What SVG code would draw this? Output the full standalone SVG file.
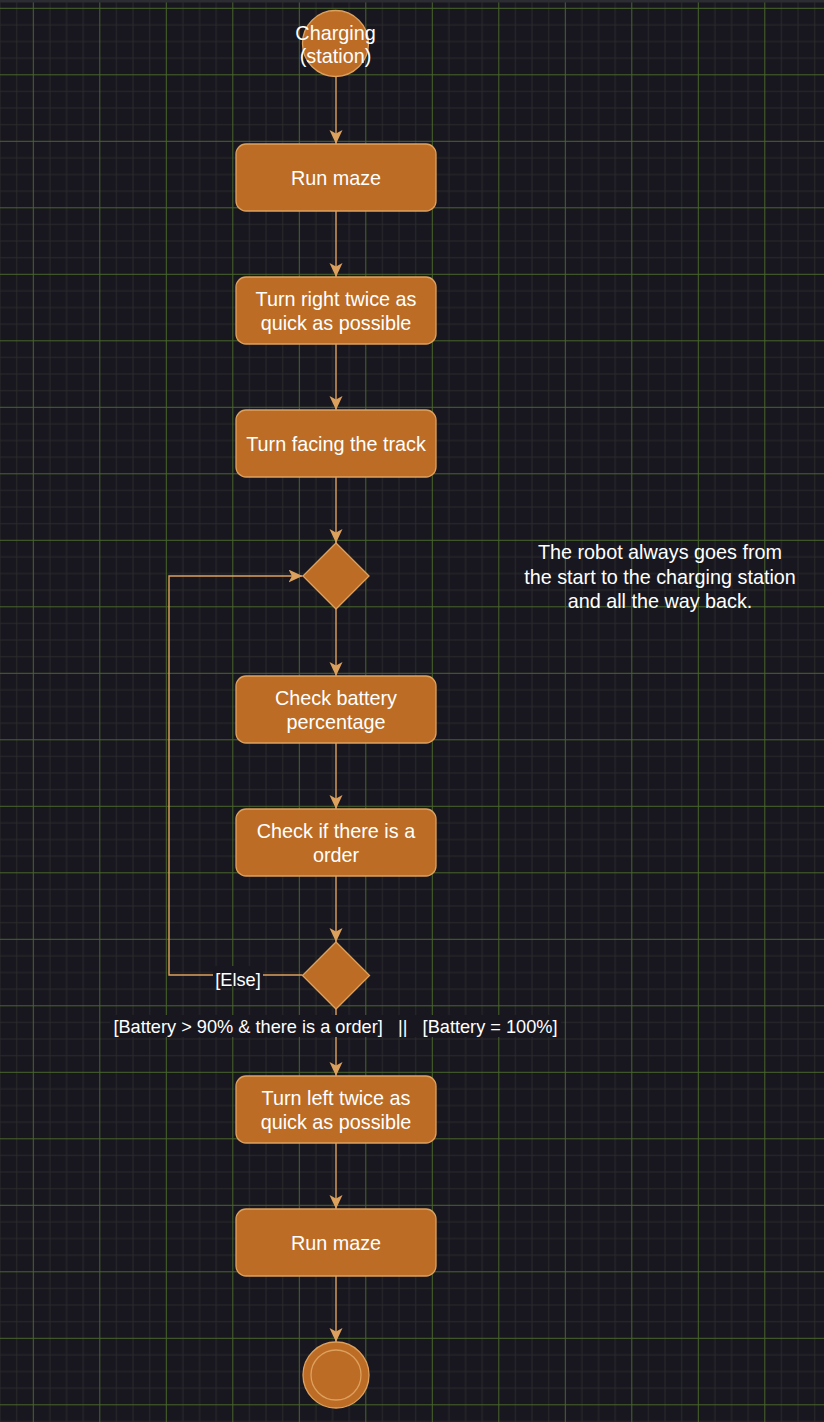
<svg xmlns="http://www.w3.org/2000/svg" width="824" height="1422" viewBox="0 0 824 1422">
<style>
.node{fill:#BC6C25;stroke:#DDA15E;stroke-width:1.3}
.t{font-family:"Liberation Sans",Arial,sans-serif;font-size:19.8px;fill:#ffffff;text-anchor:middle}
.lbl{font-size:18.2px}
.edge{fill:none;stroke:#DDA15E;stroke-width:1.4}
</style>
<defs>
<pattern id="grid" patternUnits="userSpaceOnUse" x="32.8" y="7.8" width="66.5" height="66.5">
<path d="M17.125,0V66.5M33.75,0V66.5M50.375,0V66.5M0,17.125H66.5M0,33.75H66.5M0,50.375H66.5" stroke="#2a2a2c" stroke-width="1"/>
<path d="M0.5,0V66.5M0,0.5H66.5" stroke="#47652a" stroke-width="1"/>
</pattern>
<marker id="arr" markerUnits="userSpaceOnUse" markerWidth="15" markerHeight="14" refX="14" refY="6.5" orient="auto">
<path d="M0,0 L14,6.5 L0,13 L3.5,6.5 Z" fill="#DDA15E"/>
</marker>
</defs>
<rect width="824" height="1422" fill="#18171f"/>
<rect width="824" height="1422" fill="url(#grid)"/>
<rect width="824" height="2.5" fill="#2c2c33"/>
<g id="connectors">
<path class="edge" d="M336,77V144" marker-end="url(#arr)"/>
<path class="edge" d="M336,211V277" marker-end="url(#arr)"/>
<path class="edge" d="M336,344V410" marker-end="url(#arr)"/>
<path class="edge" d="M336,477V543" marker-end="url(#arr)"/>
<path class="edge" d="M336,609V676" marker-end="url(#arr)"/>
<path class="edge" d="M336,743V809" marker-end="url(#arr)"/>
<path class="edge" d="M336,876V942" marker-end="url(#arr)"/>
<path class="edge" d="M336,1009V1076" marker-end="url(#arr)"/>
<path class="edge" d="M336,1143V1209" marker-end="url(#arr)"/>
<path class="edge" d="M336,1276V1342" marker-end="url(#arr)"/>
<path class="edge" d="M302.5,975H169V576H302.5" marker-end="url(#arr)"/>
<g id="label-else">
<rect x="213" y="966" width="50" height="20" fill="#18171f"/>
<text class="t lbl" x="238" y="986">[Else]</text>
</g>
<g id="label-cond">
<rect x="110" y="1015" width="451" height="22" fill="#18171f"/>
<text class="t lbl" x="335.5" y="1033" style="white-space:pre" xml:space="preserve">[Battery &gt; 90% &amp; there is a order]   ||   [Battery = 100%]</text>
</g>
</g>
<g id="start">
<circle class="node" cx="335.5" cy="43.5" r="33"/>
<text class="t" x="335.5" y="39.5">Charging</text>
<text class="t" x="335.5" y="63">(station)</text>
</g>
<g id="run-maze-1">
<rect class="node" x="236" y="144" width="200" height="67" rx="10"/>
<text class="t" x="336" y="184.5">Run maze</text>
</g>
<g id="turn-right">
<rect class="node" x="236" y="277" width="200" height="67" rx="10"/>
<text class="t" x="336" y="305.5">Turn right twice as</text>
<text class="t" x="336" y="329.5">quick as possible</text>
</g>
<g id="turn-facing">
<rect class="node" x="236" y="410" width="200" height="67" rx="10"/>
<text class="t" x="336" y="450.5">Turn facing the track</text>
</g>
<g id="merge">
<path class="node" d="M336,543L369,576L336,609L303,576Z"/>
</g>
<g id="check-battery">
<rect class="node" x="236" y="676" width="200" height="67" rx="10"/>
<text class="t" x="336" y="704.5">Check battery</text>
<text class="t" x="336" y="728.5">percentage</text>
</g>
<g id="check-order">
<rect class="node" x="236" y="809" width="200" height="67" rx="10"/>
<text class="t" x="336" y="837.5">Check if there is a</text>
<text class="t" x="336" y="861.5">order</text>
</g>
<g id="decision">
<path class="node" d="M336,942L369.5,975.5L336,1009L302.5,975.5Z"/>
</g>
<g id="turn-left">
<rect class="node" x="236" y="1076" width="200" height="67" rx="10"/>
<text class="t" x="336" y="1104.5">Turn left twice as</text>
<text class="t" x="336" y="1128.5">quick as possible</text>
</g>
<g id="run-maze-2">
<rect class="node" x="236" y="1209" width="200" height="67" rx="10"/>
<text class="t" x="336" y="1249.5">Run maze</text>
</g>
<g id="end">
<circle class="node" cx="336" cy="1375" r="33"/>
<circle cx="336" cy="1375" r="25" fill="none" stroke="#DDA15E" stroke-width="1.3"/>
</g>
<g id="note">
<text class="t" x="660" y="559">The robot always goes from</text>
<text class="t" x="660" y="584">the start to the charging station</text>
<text class="t" x="660" y="608">and all the way back.</text>
</g>
</svg>
